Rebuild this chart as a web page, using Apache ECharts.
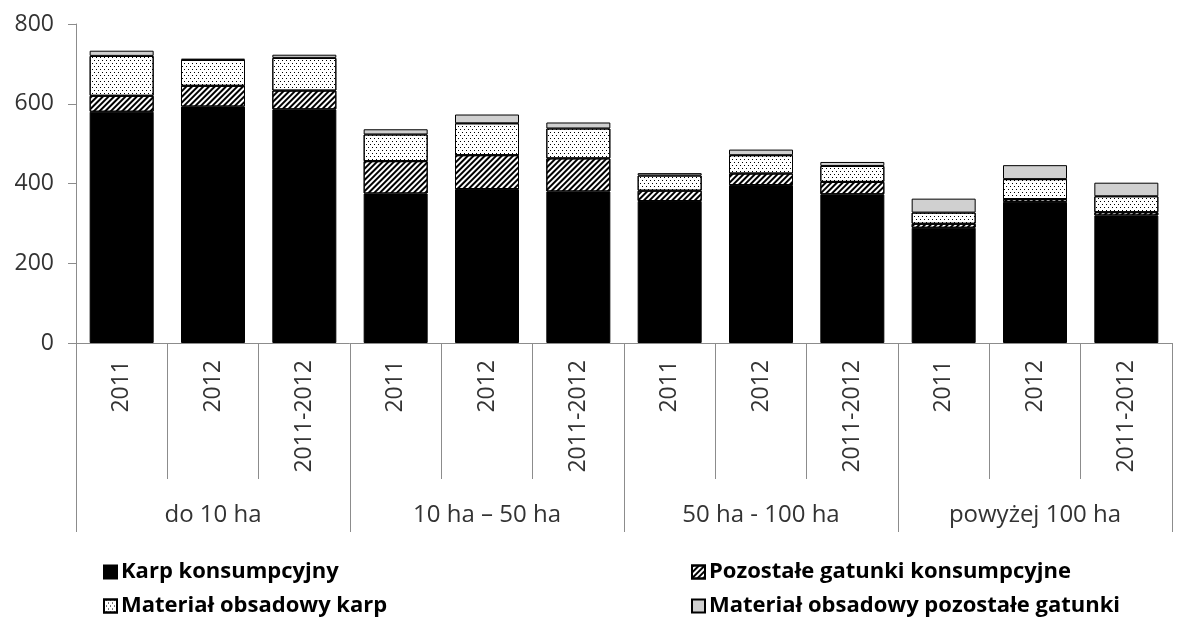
<!DOCTYPE html>
<html>
<head>
<meta charset="utf-8">
<script src="https://cdn.jsdelivr.net/npm/echarts@6/dist/echarts.min.js"></script>
<style>
  html, body { margin: 0; padding: 0; background: #fff; }
  #main { width: 1184px; height: 624px; }
</style>
</head>
<body>
<div id="main"></div>
<script>
// categories
var years = ['2011', '2012', '2011-2012', '2011', '2012', '2011-2012', '2011', '2012', '2011-2012', '2011', '2012', '2011-2012'];
var groups = ['do 10 ha', '10 ha \u2013 50 ha', '50 ha - 100 ha', 'powy\u017cej 100 ha'];

// series values
var karpKons = [580, 593, 586, 375, 386, 380, 356, 396, 373, 289, 354, 320];
var pozostaleKons = [40, 52, 47, 81, 85, 83, 26, 29, 31, 10, 7, 8];
var materialKarp = [100, 65, 82, 67, 80, 75, 38, 46, 40, 28, 50, 40];
var materialPoz = [13, 3, 8, 13, 22, 15, 6, 14, 10, 35, 35, 34];

var names = ['Karp konsumpcyjny', 'Pozosta\u0142e gatunki konsumpcyjne', 'Materia\u0142 obsadowy karp', 'Materia\u0142 obsadowy pozosta\u0142e gatunki'];

var axisColor = '#8c8c8c';
var textColor = '#333';
var font = '"Open Sans", sans-serif';

var hatch = {
    symbol: 'rect',
    color: '#000',
    dashArrayX: [1, 0],
    dashArrayY: [2, 2],
    rotation: -Math.PI / 4
};
var dots = {
    symbol: 'rect',
    color: '#000',
    dashArrayX: [[1, 3], [0, 2, 1, 1]],
    dashArrayY: [1, 2]
};

function bar(name, data, color, decal) {
    var style = { color: color, borderColor: '#000', borderWidth: 1 };
    if (decal) style.decal = decal;
    return {
        name: name,
        type: 'bar',
        stack: 'total',
        barWidth: 64,
        xAxisIndex: 0,
        data: data,
        itemStyle: style,
        emphasis: { disabled: true }
    };
}

function legendItem(name, left, top) {
    return {
        data: [name],
        left: left,
        top: top,
        icon: 'rect',
        itemWidth: 13,
        itemHeight: 13,
        itemGap: 0,
        textStyle: { fontFamily: font, fontWeight: 'bold', fontSize: 22, color: '#000', padding: [0, 0, 0, -1] }
    };
}

var chart = echarts.init(document.getElementById('main'));
chart.setOption({
    animation: false,
    grid: { left: 76, right: 12, top: 24, bottom: 281, containLabel: false },
    legend: [
        legendItem(names[0], 98, 556),
        legendItem(names[1], 686, 556),
        legendItem(names[2], 98, 590),
        legendItem(names[3], 686, 590)
    ],
    xAxis: [
        {
            type: 'category',
            data: years,
            position: 'bottom',
            axisLine: { show: true, lineStyle: { color: axisColor } },
            axisTick: { show: true, length: 136, interval: 0, lineStyle: { color: axisColor } },
            axisLabel: {
                interval: 0,
                rotate: 90,
                margin: 17,
                fontFamily: font,
                fontSize: 23,
                color: textColor
            },
            splitLine: { show: false }
        },
        {
            type: 'category',
            data: groups,
            position: 'bottom',
            axisLine: { show: false },
            axisTick: { show: true, length: 189, interval: 0, lineStyle: { color: axisColor } },
            axisLabel: {
                interval: 0,
                margin: 160,
                fontFamily: font,
                fontSize: 24,
                color: textColor
            },
            splitLine: { show: false }
        }
    ],
    yAxis: {
        type: 'value',
        min: 0,
        max: 800,
        interval: 200,
        axisLine: { show: true, lineStyle: { color: axisColor } },
        axisTick: { show: true, length: 8, lineStyle: { color: axisColor } },
        axisLabel: { margin: 22, fontFamily: font, fontSize: 23, color: textColor },
        splitLine: { show: false }
    },
    series: [
        bar(names[0], karpKons, '#000'),
        bar(names[1], pozostaleKons, '#fff', hatch),
        bar(names[2], materialKarp, '#fff', dots),
        bar(names[3], materialPoz, '#d0d0d0')
    ]
});
</script>
</body>
</html>
